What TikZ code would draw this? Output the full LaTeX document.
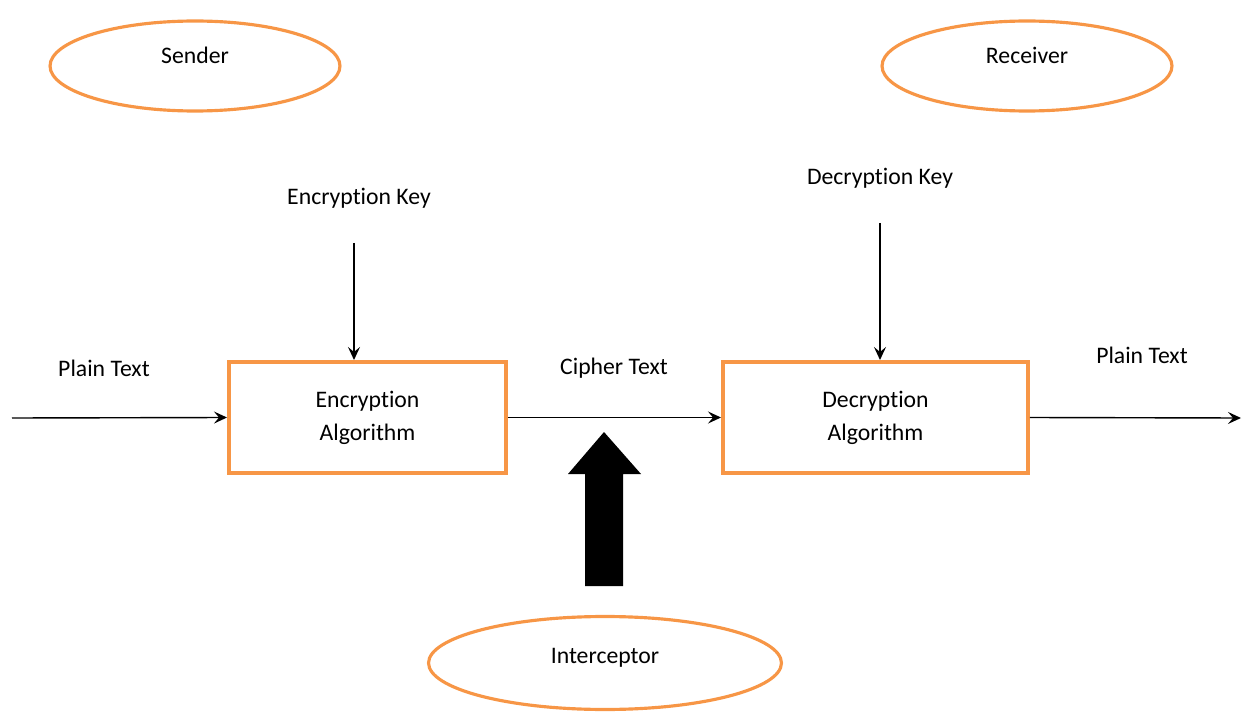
\documentclass[tikz,border=0pt]{standalone}
\usepackage{fontspec}
\setmainfont{Carlito}[Ligatures=NoCommon]
\usetikzlibrary{arrows.meta,positioning,shapes.geometric}
\definecolor{orange}{RGB}{247,150,70}

\begin{document}
\begin{tikzpicture}[x=0.02cm,y=-0.02cm,
    font=\fontsize{13.5}{18.7}\selectfont,
    party/.style={ellipse,draw=orange,line width=1.8pt,minimum width=5.8cm,minimum height=1.8cm,inner sep=0pt},
    algo/.style={rectangle,draw=orange,line width=2.3pt,minimum height=2.22cm,inner sep=0pt,align=center},
    flow/.style={-{Stealth[length=2.6mm,width=2.4mm,inset=1mm]},line width=0.8pt}]
    \useasboundingbox (0,0) rectangle (1242,713);
    % parties
    \node[party,label={[yshift=6pt]center:Sender}] (sender) at (195,66){};
    \node[party,label={[yshift=6pt]center:Receiver}] (receiver) at (1027,66){};
    \node[party,minimum width=7.06cm,minimum height=1.86cm,label={[yshift=3pt]center:Interceptor}] (intercept) at (605,663){};
    % algorithm boxes
    \node[algo,minimum width=5.54cm] (encbox) at (367.5,417.5){Encryption\\Algorithm};
    \node[algo,minimum width=6.1cm] (decbox) at (875.5,417.5){Decryption\\Algorithm};
    % keys
    \node (enckey) at (359,198){Encryption Key};
    \node (deckey) at (880,178){Decryption Key};
    \coordinate (enckeyend) at (354,243);
    \coordinate (deckeyend) at (880,223);
    \draw[flow] (enckeyend) -- (encbox.north -| enckeyend);
    \draw[flow] (deckeyend) -- (decbox.north -| deckeyend);
    % text flow
    \coordinate (plainin) at (12,418);
    \coordinate (plainout) at (1241,418);
    \node (plainlbl) at (104,368){Plain Text};
    \node (cipherlbl) at (614,368){Cipher Text};
    \node (outlbl) at (1142,355){Plain Text};
    \draw[flow] (plainin) -- (encbox.west);
    \draw[flow] (encbox.east) -- (decbox.west);
    \draw[flow] (decbox.east) -- (plainout);
    % interception arrow
    \fill (585,586) -- (585,474) -- (568,474) -- (604,432) -- (641,474) -- (623,474) -- (623,586) -- cycle;
  \end{tikzpicture}
\end{document}
